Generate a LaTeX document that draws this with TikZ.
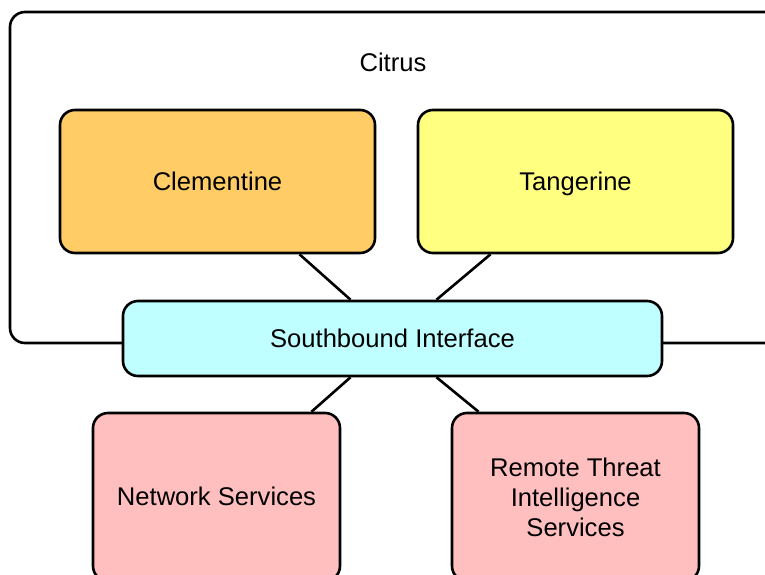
\documentclass[tikz,border=0pt]{standalone}
\usepackage{fontspec}
\setmainfont{Liberation Sans}
\usetikzlibrary{positioning}
\definecolor{fillClem}{RGB}{255, 204, 102}
\definecolor{fillTang}{RGB}{255, 255, 128}
\definecolor{fillSouth}{RGB}{191, 255, 255}
\definecolor{fillServ}{RGB}{255, 191, 191}

\begin{document}
\begin{tikzpicture}[x=1pt, y=-1pt, line width=2.6pt,
    font=\fontsize{25.6}{30}\selectfont,
    box/.style={draw, rounded corners=15pt, align=center, inner sep=0pt},
    oneline/.style={text height=20pt, text depth=3pt}]
  \clip (0,0) rectangle (765,575);
  \node[box, minimum width=780pt, minimum height=331pt] (citrus) at (400,177.5) {};
  \node[oneline] (citruslabel) at (393,63) {Citrus};
  \node[box, oneline, fill=fillClem, minimum width=315pt, minimum height=143pt] (clem) at (217.5,181.5) {Clementine};
  \node[box, oneline, fill=fillTang, minimum width=315pt, minimum height=143pt] (tang) at (575.5,181.5) {Tangerine};
  \node[box, oneline, fill=fillSouth, minimum width=539pt, minimum height=75pt] (sbi) at (392.5,338.5) {Southbound Interface};
  \node[box, oneline, fill=fillServ, minimum width=247pt, minimum height=168pt] (netsrv) at (216.5,497) {Network Services};
  \node[box, fill=fillServ, minimum width=247pt, minimum height=168pt] (remote) at (575.5,497) {Remote Threat\\ Intelligence\\ Services};
  % links to the interface
  \draw ([xshift=82pt]clem.south) -- ([xshift=-42pt]sbi.north);
  \draw ([xshift=-85pt]tang.south) -- ([xshift=44pt]sbi.north);
  \draw ([xshift=-42pt]sbi.south) -- ([xshift=95pt]netsrv.north);
  \draw ([xshift=44pt]sbi.south) -- ([xshift=-97pt]remote.north);
\end{tikzpicture}
\end{document}
